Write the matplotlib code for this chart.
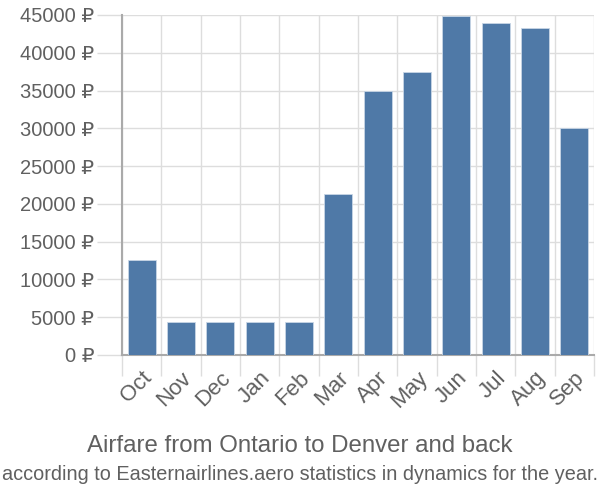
import matplotlib
matplotlib.use("Agg")
import matplotlib.pyplot as plt
import numpy as np

months = ["Oct", "Nov", "Dec", "Jan", "Feb", "Mar", "Apr", "May", "Jun", "Jul", "Aug", "Sep"]
prices = [12550, 4400, 4400, 4400, 4400, 21250, 34900, 37400, 44900, 43900, 43300, 30050]
yticks = [0, 5000, 10000, 15000, 20000, 25000, 30000, 35000, 40000, 45000]

plt.rcParams['font.family'] = ['Liberation Sans', 'DejaVu Sans']

fig = plt.figure(figsize=(6, 5), dpi=100)
ax = fig.add_axes([122/600, 1-355/500, (594-122)/600, 340/500])

x = np.arange(len(months))
ax.bar(x, prices, width=0.72, color='#4f79a7', edgecolor='#c8d6e6', linewidth=0.6, zorder=3)

ax.set_xlim(-0.5, len(months)-0.5)
ax.set_ylim(0, 45000)

ax.set_yticks(yticks)
ax.set_yticklabels([f"{v} ₽" for v in yticks], fontsize=14.5, color='#606060')
ax.set_xticks(x)
ax.set_xticklabels(months, rotation=45, ha='right', va='top', rotation_mode='anchor',
                   fontsize=16, color='#606060')
ax.tick_params(axis='x', length=0, pad=9)
ax.set_xticks(np.arange(-0.5, len(months)), minor=True)
ax.tick_params(axis='x', which='minor', length=15, color='#dddddd', width=1)
ax.tick_params(axis='y', length=18, color='#dddddd', width=1, pad=2)

ax.grid(True, which='minor', axis='x', color='#dddddd', linewidth=1, zorder=0)
ax.grid(True, which='major', axis='y', color='#dddddd', linewidth=1, zorder=0)

for s in ['top', 'right']:
    ax.spines[s].set_visible(False)
ax.spines['left'].set_color('#aaaaaa')
ax.spines['bottom'].set_color('#aaaaaa')
ax.spines['left'].set_linewidth(1.5)
ax.spines['bottom'].set_linewidth(1.5)

fig.text(0.5, 1-446/500, "Airfare from Ontario to Denver and back", ha='center', va='center',
         fontsize=17.3, color='#606060')
fig.text(0.5, 1-475/500, "according to Easternairlines.aero statistics in dynamics for the year.",
         ha='center', va='center', fontsize=14.3, color='#606060')

fig.savefig("out.png", dpi=100)
